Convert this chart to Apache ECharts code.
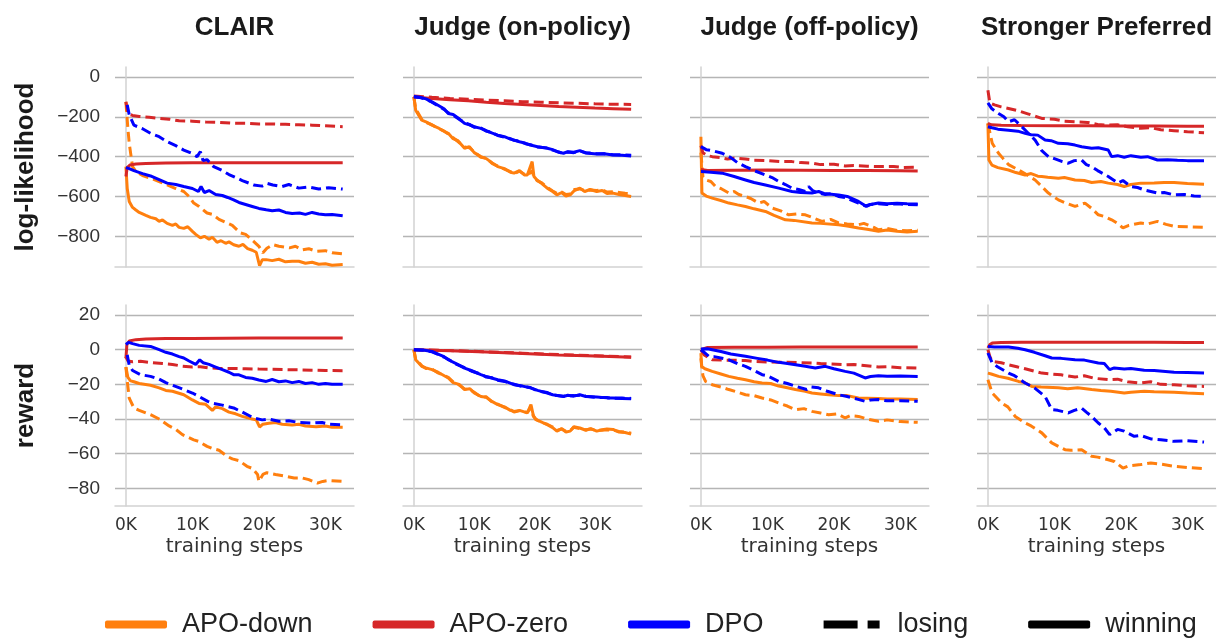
<!DOCTYPE html>
<html><head><meta charset="utf-8">
<script src="https://cdn.jsdelivr.net/npm/echarts@6/dist/echarts.min.js"></script>
<style>html,body{margin:0;padding:0;background:#fff}#c{width:1221px;height:639px}</style>
</head><body><div id="c"></div>
<script>
// ---------------- labels & ticks ----------------
const columns = ['CLAIR', 'Judge (on-policy)', 'Judge (off-policy)', 'Stronger Preferred'];
const rowNames = ['log-likelihood', 'reward'];
const methods = ['APO-down', 'APO-zero', 'DPO'];
const llTicks = [0, -200, -400, -600, -800];
const rewardTicks = [20, 0, -20, -40, -60, -80];
const stepTicks = [0, 10, 20, 30];   // thousands of steps

// ---------------- CLAIR : log-likelihood ----------------
const clairLL_downW = [[0,-450],[0.2,-560],[0.5,-625],[1,-655],[1.5,-668],[2,-680],[3,-695],[3.7,-705],[4.5,-712],[5,-725],[5.5,-718],[6.2,-735],[7,-745],[7.5,-738],[8,-755],[8.7,-760],[9.3,-752],[10,-775],[10.5,-790],[11.2,-808],[11.8,-800],[12.5,-815],[13,-805],[13.7,-830],[14.3,-822],[15,-835],[15.5,-828],[16.2,-842],[17,-850],[17.6,-840],[18.3,-862],[19,-870],[19.6,-880],[20.1,-947],[20.5,-918],[21.1,-917],[22,-922],[23,-915],[24,-928],[25,-925],[26,-925],[27,-935],[28,-930],[29,-940],[30,-938],[31,-945],[32.6,-942]];
const clairLL_downL = [[0,-125],[0.3,-260],[0.5,-333],[1,-450],[1.5,-475],[2.5,-495],[3.7,-508],[5,-525],[6.2,-542],[7.5,-560],[8.7,-575],[9.5,-600],[10.2,-633],[11,-650],[12.2,-683],[13,-690],[14,-715],[15.2,-733],[16,-745],[17.2,-783],[18,-790],[19.2,-825],[20,-850],[20.6,-883],[21.2,-860],[22.1,-842],[23,-850],[24.6,-858],[25.5,-850],[26.5,-868],[27.5,-862],[28.6,-875],[30,-872],[31,-882],[32.6,-888]];
const clairLL_zeroW = [[0,-500],[0.2,-455],[0.6,-442],[1.5,-437],[3,-434],[6,-432],[10,-431],[15,-431],[20,-431],[25,-431],[30,-431],[32.6,-431]];
const clairLL_zeroL = [[0,-125],[0.3,-185],[1,-193],[2,-198],[3.5,-202],[5,-208],[6.5,-212],[8,-220],[10,-222],[12,-226],[14,-228],[16,-232],[18,-233],[20,-236],[22,-236],[24,-238],[26,-240],[28,-242],[30,-245],[32.6,-250]];
const clairLL_dpoW = [[0,-455],[0.5,-460],[1.2,-470],[2.5,-485],[3.7,-497],[5,-515],[6.2,-533],[7.5,-540],[8.7,-550],[10,-560],[10.9,-575],[11.3,-550],[11.8,-580],[12.5,-570],[13.5,-590],[14.5,-595],[15.3,-605],[16.2,-617],[17,-630],[18,-640],[19,-650],[20,-660],[21.1,-667],[22,-672],[23,-668],[24,-680],[25,-685],[26.1,-683],[27,-690],[28,-680],[29,-688],[30,-692],[31,-690],[32.6,-697]];
const clairLL_dpoL = [[0.2,-140],[0.5,-190],[1.2,-242],[2.5,-260],[3.7,-283],[5,-300],[6.2,-325],[7.5,-345],[8.7,-367],[10,-385],[10.7,-400],[11.2,-375],[11.6,-420],[12.2,-415],[13.2,-450],[14.5,-470],[15.5,-490],[16.2,-500],[17.5,-520],[19.2,-542],[20.5,-548],[21.3,-535],[22.1,-542],[23.5,-550],[24.5,-540],[26,-558],[27.5,-552],[29,-562],[30.5,-556],[32.6,-563]];

// ---------------- CLAIR : reward ----------------
const clairRw_downW = [[0,-10],[0.3,-16],[0.7,-18],[1.2,-18.5],[2,-19.5],[3.7,-20.5],[5,-22],[6,-23.5],[7,-24],[8.7,-26],[10,-29],[11,-31],[12,-31.5],[13,-35],[13.5,-33],[14.5,-34],[15.5,-36],[16.5,-37],[17.5,-38.5],[19,-40],[19.6,-40.5],[20.1,-44.6],[20.6,-43],[21.5,-42.5],[22.5,-42],[23.5,-43],[25,-43.5],[26,-43],[27,-44],[28.6,-44.5],[30,-44],[31,-44.8],[32.6,-44.8]];
const clairRw_downL = [[0,-10],[0.2,-18],[0.5,-28],[1.2,-33.6],[2,-35],[3.7,-37.5],[5,-40],[6.5,-44],[7.5,-46],[8.5,-49],[10.2,-52],[11,-53],[12.2,-55.8],[13,-57],[14,-58],[15.2,-61.5],[16,-63],[17,-64],[18.2,-67.3],[19,-68.5],[19.8,-72],[20,-76],[20.6,-72],[21.2,-71],[22.5,-72],[24,-73],[25.3,-74],[26.5,-74],[27.5,-75],[28.8,-77],[29.6,-76],[30.5,-75.5],[32.6,-76]];
const clairRw_zeroW = [[0,-5],[0.15,3],[0.5,5],[1.5,5.8],[3,6.2],[6,6.4],[10,6.5],[15,6.6],[20,6.7],[25,6.7],[30,6.7],[32.6,6.7]];
const clairRw_zeroL = [[0,-4],[0.3,-6.5],[1,-7],[2.2,-6.7],[4,-7.5],[5.5,-8],[7,-8.5],[8.5,-9.5],[10,-10],[11.2,-9.8],[12.5,-10.5],[14,-10.8],[16,-10.8],[18,-11],[20,-11.2],[22,-11.3],[24,-11.5],[26,-11.6],[28,-11.8],[30,-12],[32.6,-12.1]];
const clairRw_dpoW = [[0,3],[0.4,4.2],[1,3.5],[2,2.5],[3.7,1.9],[5,0],[6,-1.5],[7,-2.5],[8,-4],[8.7,-4.8],[9.5,-6.5],[10.5,-8.5],[11.1,-5.8],[11.6,-7.5],[12.5,-8.5],[13.5,-10],[14.5,-11.5],[15.5,-13],[16.2,-14.4],[17,-14.5],[18,-16],[19,-16.5],[20,-17.5],[21.1,-18.3],[22,-17.2],[23,-18.5],[24,-18],[25,-19],[26,-18.3],[27,-19.5],[28,-19],[29,-20],[30,-19.5],[31,-20],[32.6,-20]];
const clairRw_dpoL = [[0.2,-3],[0.5,-9],[1,-12],[2.2,-14.4],[3.7,-15.4],[5,-17],[6,-19],[7,-20.5],[8.7,-23],[10,-25],[11,-27],[12.3,-29.8],[13.2,-31],[14.5,-32],[16.2,-33.6],[17.5,-36],[19.2,-39.4],[20.5,-40.5],[21.5,-40],[23,-41.3],[24.5,-41],[26,-42],[28,-42.3],[29.5,-42],[30.5,-43],[32.6,-43.3]];

// ---------------- Judge (on-policy) : log-likelihood ----------------
const onLL_downW = [[0,-100],[0.3,-167],[1.3,-217],[2,-225],[3,-242],[4,-255],[4.8,-270],[5.7,-283],[6.5,-310],[7.3,-320],[8.4,-358],[9.2,-350],[10,-380],[11.1,-400],[12,-410],[13,-432],[13.9,-450],[15,-460],[16,-478],[16.6,-483],[17.5,-470],[18.3,-492],[18.8,-492],[19.6,-425],[19.9,-500],[20.4,-517],[21.2,-535],[22.1,-558],[23,-575],[23.7,-592],[24.5,-580],[25.2,-598],[25.9,-592],[26.6,-570],[27.5,-558],[28.3,-575],[29.2,-565],[30.3,-575],[31.2,-570],[32,-585],[33,-583],[34,-590],[35,-595],[36,-600]];
const onLL_downL = [[0,-100],[0.3,-160],[1.3,-212],[2,-228],[3,-240],[4,-258],[4.8,-268],[5.7,-286],[6.5,-305],[7.3,-324],[8.4,-352],[9.2,-355],[10,-376],[11.1,-403],[12,-408],[13,-435],[13.9,-447],[15,-463],[16,-475],[16.6,-486],[17.5,-473],[18.3,-488],[18.8,-495],[19.6,-470],[19.9,-505],[20.4,-520],[21.2,-532],[22.1,-555],[23,-572],[23.7,-585],[24.5,-578],[25.2,-590],[25.9,-588],[26.6,-565],[27.5,-562],[28.3,-570],[29.2,-568],[30.3,-570],[31.2,-566],[32,-578],[33,-576],[34,-580],[35,-584],[36,-586]];
const onLL_zeroW = [[0,-100],[3,-108],[6,-115],[9,-120],[12,-127],[15,-133],[18,-138],[21,-143],[24,-148],[27,-152],[30,-156],[33,-159],[36,-162]];
const onLL_zeroL = [[0,-95],[3,-102],[6,-108],[9,-112],[12,-116],[15,-120],[18,-124],[21,-127],[24,-130],[27,-132],[30,-135],[33,-137],[36,-138]];
const onLL_dpoW = [[0,-100],[1,-102],[2,-110],[3,-125],[4,-142],[5,-160],[5.7,-183],[6.5,-188],[7.5,-210],[8.4,-233],[9.2,-240],[10,-250],[11.1,-258],[12,-270],[13,-282],[13.9,-292],[15,-300],[16,-312],[16.6,-317],[17.5,-325],[18.5,-333],[19.3,-342],[20.5,-350],[22.1,-358],[23,-365],[24,-378],[24.8,-383],[25.5,-375],[26.5,-378],[27.5,-370],[28.5,-382],[30.3,-387],[31.5,-385],[33,-392],[34.5,-393],[36,-397]];
const onLL_dpoL = [[0,-98],[1,-103],[2,-112],[3,-127],[4,-145],[5,-163],[5.7,-180],[6.5,-192],[7.5,-212],[8.4,-230],[9.2,-238],[10,-252],[11.1,-256],[12,-272],[13,-280],[13.9,-294],[15,-302],[16,-310],[16.6,-318],[17.5,-323],[18.5,-335],[19.3,-340],[20.5,-352],[22.1,-356],[23,-367],[24,-376],[24.8,-385],[25.5,-377],[26.5,-380],[27.5,-372],[28.5,-380],[30.3,-385],[31.5,-386],[33,-390],[34.5,-391],[36,-393]];

// ---------------- Judge (on-policy) : reward ----------------
const onRw_downW = [[0,0],[0.3,-5.8],[1.3,-9.6],[2,-10.5],[3,-11.5],[4,-13],[5.7,-16.3],[6.5,-19],[7.5,-20],[8.4,-23],[9.3,-22.5],[10,-25],[11.1,-27],[12,-27.5],[13,-30],[13.9,-31.7],[15,-33],[16,-35],[16.6,-35.6],[17.5,-35],[18.8,-36.5],[19.4,-31.7],[19.8,-38],[20.2,-40.4],[21,-41.5],[22.1,-43.3],[23,-45],[23.7,-47],[24.5,-45.5],[25.2,-47.5],[25.9,-47],[26.5,-44.5],[27.5,-45.2],[28.5,-46.5],[29.3,-45.5],[30.3,-47],[31.2,-46.2],[32,-45.8],[33,-46],[34,-47.5],[35,-47.8],[36,-48.7]];
const onRw_downL = [[0,0],[0.3,-5.5],[1.3,-9.2],[2,-10.8],[3,-11.2],[4,-13.4],[5.7,-16],[6.5,-18.5],[7.5,-20.4],[8.4,-22.6],[9.3,-23],[10,-24.6],[11.1,-27.3],[12,-27.2],[13,-30.3],[13.9,-31.4],[15,-33.3],[16,-34.6],[16.6,-35.9],[17.5,-35.3],[18.8,-36.2],[19.4,-33.5],[19.8,-38.4],[20.2,-40],[21,-41.8],[22.1,-43],[23,-44.6],[23.7,-46.6],[24.5,-45.8],[25.2,-47.1],[25.9,-46.6],[26.5,-44.8],[27.5,-45.6],[28.5,-46.2],[29.3,-45.8],[30.3,-46.6],[31.2,-46.5],[32,-46.2],[33,-46.4],[34,-47.2],[35,-47.5],[36,-48.2]];
const onRw_zeroW = [[0,0],[6,-0.6],[12,-1.3],[18,-2.2],[24,-3],[30,-3.7],[36,-4.4]];
const onRw_zeroL = [[0,0],[6,-0.5],[12,-1.2],[18,-2],[24,-2.8],[30,-3.5],[36,-4.2]];
const onRw_dpoW = [[0,0],[1.5,-0.2],[3,-1],[4,-2.5],[5,-4],[5.7,-5.8],[7,-8],[8.4,-10.6],[9.5,-12],[11.1,-14.4],[12,-15.5],[13,-16.5],[13.9,-17.3],[15,-18],[16.6,-20.2],[18,-21],[19.3,-22],[20.5,-23.5],[22.1,-25],[23,-26],[24.8,-27],[25.5,-26.3],[26.5,-26.8],[27.5,-26],[28.5,-27],[30.3,-27.3],[32,-27.8],[33,-27.9],[34.5,-28.1],[36,-28.3]];
const onRw_dpoL = [[0,0],[1.5,-0.3],[3,-1.2],[4,-2.7],[5,-4.3],[5.7,-5.5],[7,-8.3],[8.4,-10.3],[9.5,-12.3],[11.1,-14.1],[12,-15.8],[13,-16.2],[13.9,-17.6],[15,-18.3],[16.6,-19.9],[18,-21.3],[19.3,-21.8],[20.5,-23.8],[22.1,-24.7],[23,-26.2],[24.8,-26.8],[25.5,-26.6],[26.5,-26.5],[27.5,-26.3],[28.5,-26.8],[30.3,-27.5],[32,-27.6],[33,-28.1],[34.5,-27.9],[36,-28.1]];

// ---------------- Judge (off-policy) : log-likelihood ----------------
const offLL_downW = [[0,-300],[0.15,-583],[0.8,-598],[1.7,-608],[3,-620],[4.2,-633],[5.5,-642],[6.7,-650],[8,-662],[9.7,-675],[11,-695],[12.7,-717],[14,-720],[16.7,-733],[18,-735],[20.7,-742],[22,-748],[23.7,-758],[25,-765],[26.7,-775],[28,-768],[29.5,-775],[31,-778],[32.6,-775]];
const offLL_downL = [[0,-380],[0.3,-500],[0.7,-517],[1.5,-525],[2.2,-550],[3,-560],[4.2,-583],[5,-575],[5.7,-590],[6.7,-600],[7.5,-610],[8.7,-633],[9.5,-625],[10.7,-658],[12,-672],[13.2,-692],[14.5,-688],[15.7,-692],[16.7,-705],[18.2,-725],[19.5,-715],[20.7,-733],[22,-738],[23.7,-742],[24.5,-735],[26,-755],[26.7,-767],[28,-760],[29.5,-770],[31,-772],[32.6,-770]];
const offLL_zeroW = [[0,-465],[1,-470],[5,-468],[10,-467],[15,-468],[20,-470],[25,-470],[30,-471],[32.6,-472]];
const offLL_zeroL = [[0,-345],[0.3,-380],[1,-395],[1.7,-400],[3,-405],[4,-412],[5,-408],[6.7,-412],[8,-418],[10,-420],[12,-425],[13.7,-425],[15,-430],[16.7,-432],[18,-440],[20,-438],[21.7,-447],[23,-445],[25,-448],[27,-450],[29,-450],[30.5,-455],[32.6,-453]];
const offLL_dpoW = [[0,-475],[1.5,-478],[3.2,-483],[5,-500],[6.7,-517],[8,-530],[9.7,-542],[11.7,-558],[13.7,-575],[15,-580],[16.7,-583],[17.7,-575],[18.5,-585],[20.7,-592],[22,-600],[23.7,-625],[24.9,-650],[25.5,-640],[26.7,-633],[28,-636],[29.5,-634],[31,-637],[32.6,-638]];
const offLL_dpoL = [[0,-350],[0.8,-365],[1.7,-370],[3.2,-383],[4.5,-405],[5.5,-430],[6.7,-450],[8,-470],[9.7,-492],[10.7,-505],[11.7,-525],[12.7,-540],[13.7,-558],[14.7,-565],[15.7,-575],[16.2,-550],[16.8,-570],[17.7,-583],[18.7,-590],[19.7,-585],[20.7,-600],[21.7,-605],[22.7,-620],[23.7,-633],[24.7,-647],[25.5,-640],[26.7,-637],[28,-640],[29.5,-636],[31,-640],[32.6,-642]];

// ---------------- Judge (off-policy) : reward ----------------
const offRw_downW = [[0,-2],[0.1,-9.6],[0.6,-11],[1.7,-12.5],[3,-14],[4.2,-15.4],[5.5,-16.5],[6.7,-17.3],[8,-18.5],[9.2,-19.2],[10.5,-19.5],[11.7,-21],[13,-22],[14.2,-23],[15.7,-24],[16.7,-25],[18,-25.5],[19.2,-26],[20.7,-26.5],[22,-26.5],[23.7,-27.9],[25,-28],[26.7,-28.2],[28,-28.5],[30,-28.5],[32.6,-28.8]];
const offRw_downL = [[0,-5],[0.3,-15],[0.7,-18.3],[1.7,-20.2],[3,-21.5],[4.2,-23],[5.5,-24.5],[6.7,-26],[8,-26.5],[9.2,-27.9],[10.5,-29],[11.7,-30.8],[13,-32.5],[14.2,-34.6],[15.5,-34],[16.7,-35.6],[18,-36.5],[19.2,-37.5],[20.5,-37],[21.7,-39.4],[22.5,-38],[23.7,-38.5],[25,-40],[26.7,-41.3],[28,-40.5],[30,-41.5],[32.6,-41.9]];
const offRw_zeroW = [[0,0],[0.3,1],[1,1.3],[5,1.4],[10,1.4],[15,1.5],[20,1.5],[25,1.5],[30,1.5],[32.6,1.5]];
const offRw_zeroL = [[0,0],[0.5,-3],[1.7,-5.8],[3,-6],[6.7,-6.2],[8,-6.8],[11.7,-7.3],[13,-7.2],[16.7,-7.7],[18,-8],[21.7,-8.7],[23,-8.5],[26.7,-10],[28,-9.8],[30,-10.4],[32.6,-10.6]];
const offRw_dpoW = [[0,0.4],[1,0.5],[1.7,0],[3,-1],[4.5,-2.5],[6.7,-3.8],[8.5,-5],[10,-6],[11.7,-7.3],[13,-8],[14,-8.5],[15.7,-9.6],[17.2,-10.6],[18.7,-9.6],[20,-11],[21.7,-12.5],[23,-13.5],[24.7,-16.3],[25.5,-15.5],[26.7,-15],[28,-15.3],[30,-15.2],[32.6,-15.4]];
const offRw_dpoL = [[0,0],[0.5,-1.5],[1.2,-3.8],[2,-4],[4.2,-5.8],[5.5,-8],[6.7,-9.6],[8,-12],[9.2,-14.4],[10,-15],[11.7,-18.3],[13,-19.5],[14.2,-21],[15.9,-23],[16.5,-21.5],[17.7,-22],[19,-24],[20.7,-26],[22,-27],[23.5,-28.5],[24.7,-29.8],[25.5,-29],[26.7,-28.8],[28,-29.5],[30,-29.5],[32.6,-29.8]];

// ---------------- Stronger Preferred : log-likelihood ----------------
const strLL_downW = [[0,-233],[0.15,-417],[0.6,-442],[1.5,-455],[3.1,-467],[4.2,-480],[5.6,-492],[6.5,-485],[7.5,-498],[8.1,-500],[9,-503],[10.6,-508],[11.5,-505],[13.1,-517],[14.5,-520],[15.6,-530],[17,-525],[18.1,-533],[19.5,-540],[20.5,-550],[21.5,-540],[23,-533],[25,-532],[26.5,-530],[28,-530],[30,-535],[32.5,-538]];
const strLL_downL = [[0,-233],[0.65,-333],[1.6,-383],[2.3,-410],[3.1,-440],[4.6,-467],[5.8,-490],[7.1,-517],[8.1,-550],[9.1,-583],[10.6,-617],[11.5,-630],[13.1,-650],[14.6,-633],[15.6,-660],[16.6,-692],[17.5,-700],[18.6,-717],[19.5,-735],[20.3,-758],[21.2,-745],[23,-733],[24,-738],[25.5,-725],[26.8,-740],[28,-750],[30,-752],[32.5,-755]];
const strLL_zeroW = [[0,-233],[0.5,-240],[2,-243],[5,-244],[10,-245],[15,-245],[20,-246],[25,-246],[30,-247],[32.5,-247]];
const strLL_zeroL = [[0,-67],[0.3,-130],[1,-140],[2,-150],[3.1,-158],[4.6,-170],[6,-185],[8.1,-208],[10,-212],[11.5,-222],[13.1,-225],[15,-228],[16.5,-238],[18,-242],[19.5,-240],[21,-250],[23,-258],[24.5,-255],[26,-265],[28,-270],[30,-275],[32.5,-280]];
const strLL_dpoW = [[0,-250],[0.6,-255],[1.5,-262],[3.1,-267],[4.5,-272],[5.6,-283],[6.5,-290],[7.5,-292],[8.6,-317],[9.5,-320],[10.6,-333],[12,-335],[13.1,-342],[14.1,-350],[15.6,-358],[16.6,-355],[18.1,-367],[18.6,-400],[19.5,-395],[20.5,-403],[21.5,-395],[23,-403],[24,-400],[25.5,-417],[27,-415],[28.5,-418],[30,-420],[32.5,-420]];
const strLL_dpoL = [[0,-130],[0.6,-160],[1.6,-183],[2.4,-200],[3.1,-225],[4,-215],[5.1,-250],[6,-280],[7.1,-317],[8.1,-370],[9.1,-400],[10,-410],[11.2,-425],[12.1,-433],[13,-420],[14.1,-417],[14.8,-440],[15.6,-450],[16.5,-470],[18.1,-500],[19.6,-533],[20.3,-520],[21.5,-550],[22.5,-555],[23.5,-567],[24.5,-575],[25.5,-583],[26.5,-580],[28,-592],[29.5,-590],[31,-598],[32.5,-600]];

// ---------------- Stronger Preferred : reward ----------------
const strRw_downW = [[0,-13.5],[0.5,-14],[1.6,-15.4],[3,-16.5],[4.6,-18.3],[5.5,-19],[6.6,-21.2],[8,-21.5],[10.6,-22],[12,-22.5],[13.5,-22],[15.6,-23],[17,-23.5],[18.5,-24],[20.5,-25],[21.5,-24.5],[23.5,-24],[25,-24.3],[28,-24.6],[30,-25],[32.5,-25.4]];
const strRw_downL = [[0,-17.3],[0.65,-25],[2.1,-30.8],[3,-33],[4.1,-38.5],[5.6,-42.3],[6.5,-44],[8.1,-48],[9.6,-53.8],[11.6,-57.7],[12.5,-58],[14.1,-57.7],[15.6,-61.5],[16.5,-62],[18.1,-63.5],[19,-64.5],[20.3,-68.3],[21.2,-67],[23,-66.3],[24.5,-65.4],[26,-66],[28,-67.3],[30,-68],[32.5,-68.7]];
const strRw_zeroW = [[0,1],[0.3,3],[0.65,3.8],[2,4.1],[5,4.3],[10,4.3],[15,4.3],[20,4.3],[25,4.3],[30,4.2],[32.5,4.2]];
const strRw_zeroL = [[0,0],[0.3,-4],[0.65,-6.7],[2,-7.5],[3.1,-8.7],[4.5,-10],[5.6,-11],[8.1,-13.5],[9.5,-14],[11,-14.5],[13.1,-15.8],[14.5,-15],[16,-16.5],[18.1,-17.3],[19.5,-17],[21,-18.5],[23,-19.2],[24.5,-18.5],[26,-20],[28,-20.2],[30,-20.8],[32.5,-21.2]];
const strRw_dpoW = [[0,1.9],[1,1.5],[3.1,1.5],[4.5,0.8],[5.6,0],[7,-1.5],[8.6,-3.5],[9.6,-4.8],[11,-5],[13.1,-5.8],[14.5,-6],[16.6,-7.7],[17.5,-8],[18.3,-11.5],[19,-10.5],[20.5,-11.2],[21.5,-10.8],[23.5,-11.9],[25,-12],[28,-13],[30,-13.2],[32.5,-13.5]];
const strRw_dpoL = [[0,-1.9],[0.65,-7.7],[1.5,-10],[3.1,-13.5],[4,-15],[5.6,-19.2],[7,-22],[8.6,-27],[9.6,-34.6],[10.5,-35],[12.1,-36.5],[13,-35],[14.1,-33.7],[14.8,-36],[15.6,-38.5],[16.6,-42.3],[17.5,-45],[18.3,-49],[19.5,-46],[20.5,-47],[22,-50],[23,-49.5],[24.5,-51.5],[26,-52],[28,-52.9],[30,-52.5],[32.5,-53.3]];

// ---------------- assemble ----------------
// panel order: row-major (row 0 = log-likelihood, row 1 = reward); per panel [method][winning, losing]
const panels = [
  [[clairLL_downW, clairLL_downL], [clairLL_zeroW, clairLL_zeroL], [clairLL_dpoW, clairLL_dpoL]],
  [[onLL_downW, onLL_downL], [onLL_zeroW, onLL_zeroL], [onLL_dpoW, onLL_dpoL]],
  [[offLL_downW, offLL_downL], [offLL_zeroW, offLL_zeroL], [offLL_dpoW, offLL_dpoL]],
  [[strLL_downW, strLL_downL], [strLL_zeroW, strLL_zeroL], [strLL_dpoW, strLL_dpoL]],
  [[clairRw_downW, clairRw_downL], [clairRw_zeroW, clairRw_zeroL], [clairRw_dpoW, clairRw_dpoL]],
  [[onRw_downW, onRw_downL], [onRw_zeroW, onRw_zeroL], [onRw_dpoW, onRw_dpoL]],
  [[offRw_downW, offRw_downL], [offRw_zeroW, offRw_zeroL], [offRw_dpoW, offRw_dpoL]],
  [[strRw_downW, strRw_downL], [strRw_zeroW, strRw_zeroL], [strRw_dpoW, strRw_dpoL]]
];

const methodColors = {'APO-down': '#ff7f0e', 'APO-zero': '#d62728', 'DPO': '#0000ff'};
const colLeft = [115, 403, 690, 977];
const colWidth = 239;
const rowTop = [67, 305];
const rowHeight = [200, 201];
const xRange = [[-1.64, 34.3], [-1.8, 37.8], [-1.64, 34.3], [-1.64, 34.3]];
const yRange = [[-954, 50], [-90.2, 25.8]];
const yTicks = [llTicks, rewardTicks];

const tickFont = '"Liberation Sans", Arial, sans-serif';
const xFont = '"DejaVu Sans", sans-serif';
const fmtMinus = v => (v < 0 ? '\u2212' + Math.abs(v) : String(v));

const grids = [], xAxes = [], yAxes = [], series = [];
for (let r = 0; r < 2; r++) {
  for (let c = 0; c < 4; c++) {
    const i = r * 4 + c;
    grids.push({left: colLeft[c], top: rowTop[r], width: colWidth, height: rowHeight[r], containLabel: false});
    xAxes.push({
      gridIndex: i, type: 'value', min: xRange[c][0], max: xRange[c][1],
      axisLine: {show: true, onZero: false, lineStyle: {color: '#d2d2d2', width: 1.5}},
      axisTick: {show: false, customValues: stepTicks},
      splitLine: {show: false},
      axisLabel: {show: r === 1, customValues: stepTicks, formatter: v => v + 'K',
        fontFamily: xFont, fontSize: 17, color: '#333', margin: 11},
      name: r === 1 ? 'training steps' : '', nameLocation: 'middle', nameGap: 31,
      nameTextStyle: {fontFamily: xFont, fontSize: 20, color: '#333'}
    });
    yAxes.push({
      gridIndex: i, type: 'value', min: yRange[r][0], max: yRange[r][1],
      axisLine: {show: true, lineStyle: {color: '#d2d2d2', width: 1.5}},
      axisTick: {show: false, customValues: yTicks[r]},
      splitLine: {show: true, lineStyle: {color: '#b5b5b5', width: 1.3}},
      axisLabel: {show: c === 0, customValues: yTicks[r], formatter: fmtMinus,
        fontFamily: tickFont, fontSize: 19, color: '#333', margin: 15}
    });
    methods.forEach((m, mi) => {
      [0, 1].forEach(s => {
        series.push({
          name: m, type: 'line', xAxisIndex: i, yAxisIndex: i,
          data: panels[i][mi][s], showSymbol: false, symbol: 'none', silent: true,
          z: 2 + mi, animation: false,
          lineStyle: {color: methodColors[m], width: 3, type: s === 0 ? 'solid' : [10, 5], cap: 'butt'},
          itemStyle: {color: methodColors[m]}
        });
      });
    });
  }
}
// legend-only series for line styles
series.push({name: 'losing', type: 'line', xAxisIndex: 0, yAxisIndex: 0, data: [], itemStyle: {color: '#000'}, lineStyle: {color: '#000'}});
series.push({name: 'winning', type: 'line', xAxisIndex: 0, yAxisIndex: 0, data: [], itemStyle: {color: '#000'}, lineStyle: {color: '#000'}});

const titleFont = '"Liberation Sans", Arial, sans-serif';
const graphics = columns.map((t, c) => ({
  type: 'text', x: colLeft[c] + colWidth / 2, y: 28, silent: true,
  style: {text: t, fontFamily: titleFont, fontWeight: 'bold', fontSize: 26, fill: '#1a1a1a',
    align: 'center', verticalAlign: 'middle', textAlign: 'center', textVerticalAlign: 'middle'}
}));
rowNames.forEach((t, r) => {
  graphics.push({
    type: 'text', x: 26, y: rowTop[r] + rowHeight[r] / 2, rotation: Math.PI / 2, silent: true,
    style: {text: t, fontFamily: titleFont, fontWeight: 'bold', fontSize: 26, fill: '#1a1a1a',
      align: 'center', verticalAlign: 'middle', textAlign: 'center', textVerticalAlign: 'middle'}
  });
});

const losingIcon = 'path://M0,0L34,0L34,8L0,8Z M44,0L56,0L56,8L44,8Z';
const chart = echarts.init(document.getElementById('c'), null, {renderer: 'canvas'});
chart.setOption({
  backgroundColor: '#ffffff',
  animation: false,
  grid: grids, xAxis: xAxes, yAxis: yAxes, series: series,
  graphic: graphics,
  legend: {
    left: 100, top: 606, width: 1121, itemWidth: 62, itemHeight: 8, itemGap: 60, selectedMode: false,
    textStyle: {fontFamily: titleFont, fontSize: 27, color: '#222', padding: [0, 0, 0, 10]},
    data: [
      {name: 'APO-down', icon: 'roundRect', itemStyle: {color: methodColors['APO-down'], borderWidth: 0}},
      {name: 'APO-zero', icon: 'roundRect', itemStyle: {color: methodColors['APO-zero'], borderWidth: 0}},
      {name: 'DPO', icon: 'roundRect', itemStyle: {color: methodColors['DPO'], borderWidth: 0}},
      {name: 'losing', icon: losingIcon, itemStyle: {color: '#000', borderWidth: 0}},
      {name: 'winning', icon: 'roundRect', itemStyle: {color: '#000', borderWidth: 0}}
    ]
  }
});
</script></body></html>
